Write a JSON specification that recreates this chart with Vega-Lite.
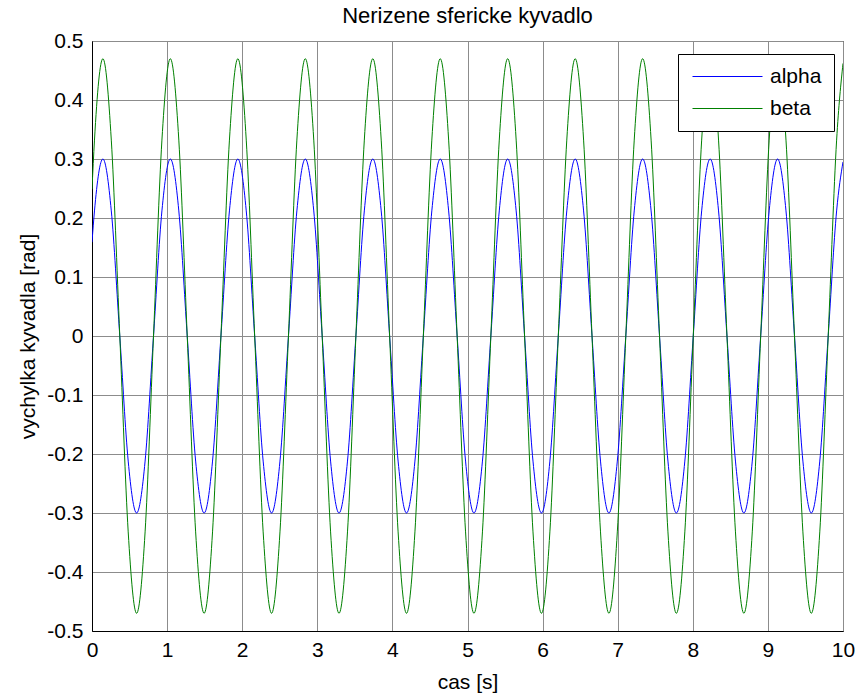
{
  "$schema": "https://vega.github.io/schema/vega-lite/v6.json",
  "autosize": "none",
  "padding": {"left": 92, "top": 41, "right": 15, "bottom": 69},
  "width": 751,
  "height": 590,
  "background": "white",
  "title": {"text": "Nerizene sfericke kyvadlo", "font": "Liberation Sans", "fontSize": 22, "fontWeight": "normal", "color": "black", "anchor": "middle", "offset": 2},
  "data": {"values": [
    {"t":0,"alpha":0.159,"beta":0.249},
    {"t":0.033,"alpha":0.212,"beta":0.332},
    {"t":0.145,"alpha":0.3,"beta":0.47},
    {"t":0.257,"alpha":0.212,"beta":0.332},
    {"t":0.370,"alpha":0,"beta":0},
    {"t":0.482,"alpha":-0.212,"beta":-0.332},
    {"t":0.594,"alpha":-0.3,"beta":-0.47},
    {"t":0.707,"alpha":-0.212,"beta":-0.332},
    {"t":0.819,"alpha":0,"beta":0},
    {"t":0.931,"alpha":0.212,"beta":0.332},
    {"t":1.043,"alpha":0.3,"beta":0.47},
    {"t":1.156,"alpha":0.212,"beta":0.332},
    {"t":1.268,"alpha":0,"beta":0},
    {"t":1.380,"alpha":-0.212,"beta":-0.332},
    {"t":1.493,"alpha":-0.3,"beta":-0.47},
    {"t":1.605,"alpha":-0.212,"beta":-0.332},
    {"t":1.717,"alpha":0,"beta":0},
    {"t":1.830,"alpha":0.212,"beta":0.332},
    {"t":1.942,"alpha":0.3,"beta":0.47},
    {"t":2.054,"alpha":0.212,"beta":0.332},
    {"t":2.166,"alpha":0,"beta":0},
    {"t":2.279,"alpha":-0.212,"beta":-0.332},
    {"t":2.391,"alpha":-0.3,"beta":-0.47},
    {"t":2.503,"alpha":-0.212,"beta":-0.332},
    {"t":2.616,"alpha":0,"beta":0},
    {"t":2.728,"alpha":0.212,"beta":0.332},
    {"t":2.840,"alpha":0.3,"beta":0.47},
    {"t":2.953,"alpha":0.212,"beta":0.332},
    {"t":3.065,"alpha":0,"beta":0},
    {"t":3.177,"alpha":-0.212,"beta":-0.332},
    {"t":3.289,"alpha":-0.3,"beta":-0.47},
    {"t":3.402,"alpha":-0.212,"beta":-0.332},
    {"t":3.514,"alpha":0,"beta":0},
    {"t":3.626,"alpha":0.212,"beta":0.332},
    {"t":3.739,"alpha":0.3,"beta":0.47},
    {"t":3.851,"alpha":0.212,"beta":0.332},
    {"t":3.963,"alpha":0,"beta":0},
    {"t":4.076,"alpha":-0.212,"beta":-0.332},
    {"t":4.188,"alpha":-0.3,"beta":-0.47},
    {"t":4.300,"alpha":-0.212,"beta":-0.332},
    {"t":4.412,"alpha":0,"beta":0},
    {"t":4.525,"alpha":0.212,"beta":0.332},
    {"t":4.637,"alpha":0.3,"beta":0.47},
    {"t":4.749,"alpha":0.212,"beta":0.332},
    {"t":4.862,"alpha":0,"beta":0},
    {"t":4.974,"alpha":-0.212,"beta":-0.332},
    {"t":5.086,"alpha":-0.3,"beta":-0.47},
    {"t":5.199,"alpha":-0.212,"beta":-0.332},
    {"t":5.311,"alpha":0,"beta":0},
    {"t":5.423,"alpha":0.212,"beta":0.332},
    {"t":5.535,"alpha":0.3,"beta":0.47},
    {"t":5.648,"alpha":0.212,"beta":0.332},
    {"t":5.760,"alpha":0,"beta":0},
    {"t":5.872,"alpha":-0.212,"beta":-0.332},
    {"t":5.985,"alpha":-0.3,"beta":-0.47},
    {"t":6.097,"alpha":-0.212,"beta":-0.332},
    {"t":6.209,"alpha":0,"beta":0},
    {"t":6.322,"alpha":0.212,"beta":0.332},
    {"t":6.434,"alpha":0.3,"beta":0.47},
    {"t":6.546,"alpha":0.212,"beta":0.332},
    {"t":6.658,"alpha":0,"beta":0},
    {"t":6.771,"alpha":-0.212,"beta":-0.332},
    {"t":6.883,"alpha":-0.3,"beta":-0.47},
    {"t":6.995,"alpha":-0.212,"beta":-0.332},
    {"t":7.108,"alpha":0,"beta":0},
    {"t":7.220,"alpha":0.212,"beta":0.332},
    {"t":7.332,"alpha":0.3,"beta":0.47},
    {"t":7.445,"alpha":0.212,"beta":0.332},
    {"t":7.557,"alpha":0,"beta":0},
    {"t":7.669,"alpha":-0.212,"beta":-0.332},
    {"t":7.781,"alpha":-0.3,"beta":-0.47},
    {"t":7.894,"alpha":-0.212,"beta":-0.332},
    {"t":8.006,"alpha":0,"beta":0},
    {"t":8.118,"alpha":0.212,"beta":0.332},
    {"t":8.231,"alpha":0.3,"beta":0.47},
    {"t":8.343,"alpha":0.212,"beta":0.332},
    {"t":8.455,"alpha":0,"beta":0},
    {"t":8.568,"alpha":-0.212,"beta":-0.332},
    {"t":8.680,"alpha":-0.3,"beta":-0.47},
    {"t":8.792,"alpha":-0.212,"beta":-0.332},
    {"t":8.904,"alpha":0,"beta":0},
    {"t":9.017,"alpha":0.212,"beta":0.332},
    {"t":9.129,"alpha":0.3,"beta":0.47},
    {"t":9.241,"alpha":0.212,"beta":0.332},
    {"t":9.354,"alpha":0,"beta":0},
    {"t":9.466,"alpha":-0.212,"beta":-0.332},
    {"t":9.578,"alpha":-0.3,"beta":-0.47},
    {"t":9.691,"alpha":-0.212,"beta":-0.332},
    {"t":9.803,"alpha":0,"beta":0},
    {"t":9.915,"alpha":0.212,"beta":0.332},
    {"t":10,"alpha":0.295,"beta":0.462}
  ]},
  "transform": [{"fold": ["alpha", "beta"], "as": ["series", "value"]}],
  "mark": {"type": "line", "strokeWidth": 1, "interpolate": "monotone", "clip": true},
  "encoding": {
    "x": {"field": "t", "type": "quantitative", "scale": {"domain": [0, 10], "nice": false, "zero": false},
      "axis": {"title": "cas [s]", "values": [0,1,2,3,4,5,6,7,8,9,10], "format": "d", "labelPadding": 8, "titlePadding": 11, "labelFlush": false}},
    "y": {"field": "value", "type": "quantitative", "scale": {"domain": [-0.5, 0.5], "nice": false, "zero": false},
      "axis": {"title": "vychylka kyvadla [rad]", "values": [-0.5,-0.4,-0.3,-0.2,-0.1,0,0.1,0.2,0.3,0.4,0.5], "format": ".1~f", "labelExpr": "replace(datum.label, '\u2212', '-')", "labelPadding": 9, "titlePadding": 8, "labelFlush": false}},
    "color": {"field": "series", "type": "nominal",
      "scale": {"domain": ["alpha", "beta"], "range": ["#0000ff", "#008000"]},
      "legend": {"orient": "none", "legendX": 586, "legendY": 13, "title": null, "direction": "vertical",
        "symbolType": "M-0.8,0H6.2", "symbolSize": 400, "symbolStrokeWidth": 1, "labelOffset": 59,
        "labelFont": "Liberation Sans", "labelFontSize": 21, "labelColor": "black",
        "strokeColor": "black", "fillColor": "white", "padding": 12, "rowPadding": 10}}
  },
  "config": {
    "view": {"stroke": "black", "strokeWidth": 1},
    "axis": {"domainColor": "black", "domainWidth": 1, "grid": true, "gridColor": "#8c8c8c", "gridOpacity": 1, "gridWidth": 1,
      "ticks": false, "tickSize": 0,
      "labelFont": "Liberation Sans", "labelFontSize": 21, "labelColor": "black",
      "titleFont": "Liberation Sans", "titleFontSize": 21, "titleFontWeight": "normal", "titleColor": "black"}
  }
}
